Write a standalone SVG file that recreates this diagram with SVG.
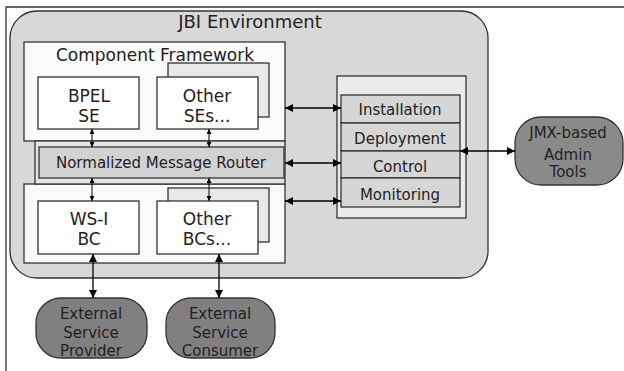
<svg xmlns="http://www.w3.org/2000/svg" width="624" height="371" viewBox="0 0 624 371">
<defs>
<marker id="ah" viewBox="0 0 10 10" refX="10" refY="5" markerWidth="9" markerHeight="8" markerUnits="userSpaceOnUse" orient="auto-start-reverse"><path d="M0,0 L10,5 L0,10 z" fill="#000"/></marker>
<marker id="as" viewBox="0 0 10 10" refX="10" refY="5" markerWidth="5" markerHeight="5" markerUnits="userSpaceOnUse" orient="auto-start-reverse"><path d="M0,0 L10,5 L0,10 z" fill="#000"/></marker>
<style>
text{font-family:"DejaVu Sans","Liberation Sans",sans-serif;fill:#222;text-anchor:middle}
.box{stroke:#333;stroke-width:1.3}
.big{stroke:#000;stroke-width:1.3;fill:none;marker-start:url(#ah);marker-end:url(#ah)}
.sm{stroke:#000;stroke-width:1;fill:none;marker-start:url(#as);marker-end:url(#as)}
.t15{font-size:15px}
.t17{font-size:17px}
</style>
</defs>
<rect x="0" y="0" width="624" height="371" fill="#fff"/>
<path d="M6,371 V7 H624" fill="none" stroke="#333" stroke-width="1.3"/>

<g id="jbi">
<rect class="box" x="10" y="11" width="478" height="267" rx="27" fill="#d8d8d8"/>
<text x="250" y="28" font-size="18">JBI Environment</text>
</g>

<g id="framework">
<rect class="box" x="24" y="42" width="261" height="99" fill="#fafafa"/>
<rect class="box" x="24" y="184" width="261" height="79" fill="#fafafa"/>
<text class="t17" x="155" y="61">Component Framework</text>
</g>

<g id="nmr">
<rect class="box" x="35" y="141" width="250" height="43" fill="#e4e4e4"/>
<rect class="box" x="39" y="147" width="245" height="31" fill="#d2d2d2"/>
<text class="t15" x="161" y="168">Normalized Message Router</text>
</g>

<g id="bpel">
<rect class="box" x="38" y="77" width="101" height="52" fill="#fff"/>
<text class="t17" x="89" y="102">BPEL</text>
<text class="t17" x="89" y="122">SE</text>
</g>

<g id="otherses">
<rect class="box" x="168" y="63" width="101" height="54" fill="#e8e8e8"/>
<rect class="box" x="157" y="77" width="101" height="52" fill="#fff"/>
<text class="t17" x="207" y="102">Other</text>
<text class="t17" x="207" y="122">SEs...</text>
</g>

<g id="wsibc">
<rect class="box" x="38" y="201" width="101" height="53" fill="#fff"/>
<text class="t17" x="89" y="225">WS-I</text>
<text class="t17" x="89" y="245">BC</text>
</g>

<g id="otherbcs">
<rect class="box" x="168" y="188" width="101" height="54" fill="#e8e8e8"/>
<rect class="box" x="157" y="201" width="101" height="53" fill="#fff"/>
<text class="t17" x="207" y="225">Other</text>
<text class="t17" x="207" y="245">BCs...</text>
</g>

<g id="management">
<rect class="box" x="337" y="76" width="129" height="142" fill="#ebebeb"/>
<rect class="box" x="341" y="95" width="119" height="28" fill="#d6d6d6"/>
<rect class="box" x="341" y="123" width="119" height="28" fill="#d6d6d6"/>
<rect class="box" x="341" y="151" width="119" height="27" fill="#d6d6d6"/>
<rect class="box" x="341" y="178" width="119" height="29" fill="#d6d6d6"/>
<text class="t15" x="400" y="115">Installation</text>
<text class="t15" x="400" y="144">Deployment</text>
<text class="t15" x="400" y="171.5">Control</text>
<text class="t15" x="400" y="200">Monitoring</text>
</g>

<g id="jmx">
<rect class="box" x="515" y="117" width="108" height="68" rx="26" fill="#8a8a8a"/>
<text class="t15" x="568" y="138">JMX-based</text>
<text class="t15" x="568" y="160">Admin</text>
<text class="t15" x="568" y="177">Tools</text>
</g>

<g id="provider">
<rect class="box" x="36" y="298" width="111" height="60" rx="25" fill="#808080"/>
<text class="t15" x="91" y="319">External</text>
<text class="t15" x="91" y="338">Service</text>
<text class="t15" x="91" y="356">Provider</text>
</g>

<g id="consumer">
<rect class="box" x="166" y="298" width="109" height="60" rx="25" fill="#808080"/>
<text class="t15" x="220" y="319">External</text>
<text class="t15" x="220" y="338">Service</text>
<text class="t15" x="220" y="356">Consumer</text>
</g>

<g id="connectors">
<line class="sm" x1="92" y1="129" x2="92" y2="147"/>
<line class="sm" x1="209" y1="129" x2="209" y2="147"/>
<line class="sm" x1="92" y1="178" x2="92" y2="201"/>
<line class="sm" x1="209" y1="178" x2="209" y2="201"/>
<line class="big" x1="285" y1="108" x2="341" y2="108"/>
<line class="big" x1="285" y1="163" x2="341" y2="163"/>
<line class="big" x1="285" y1="201" x2="341" y2="201"/>
<line class="big" x1="460" y1="151" x2="515" y2="151"/>
<line class="big" x1="93" y1="254" x2="93" y2="298"/>
<line class="big" x1="219" y1="254" x2="219" y2="298"/>
</g>
</svg>
